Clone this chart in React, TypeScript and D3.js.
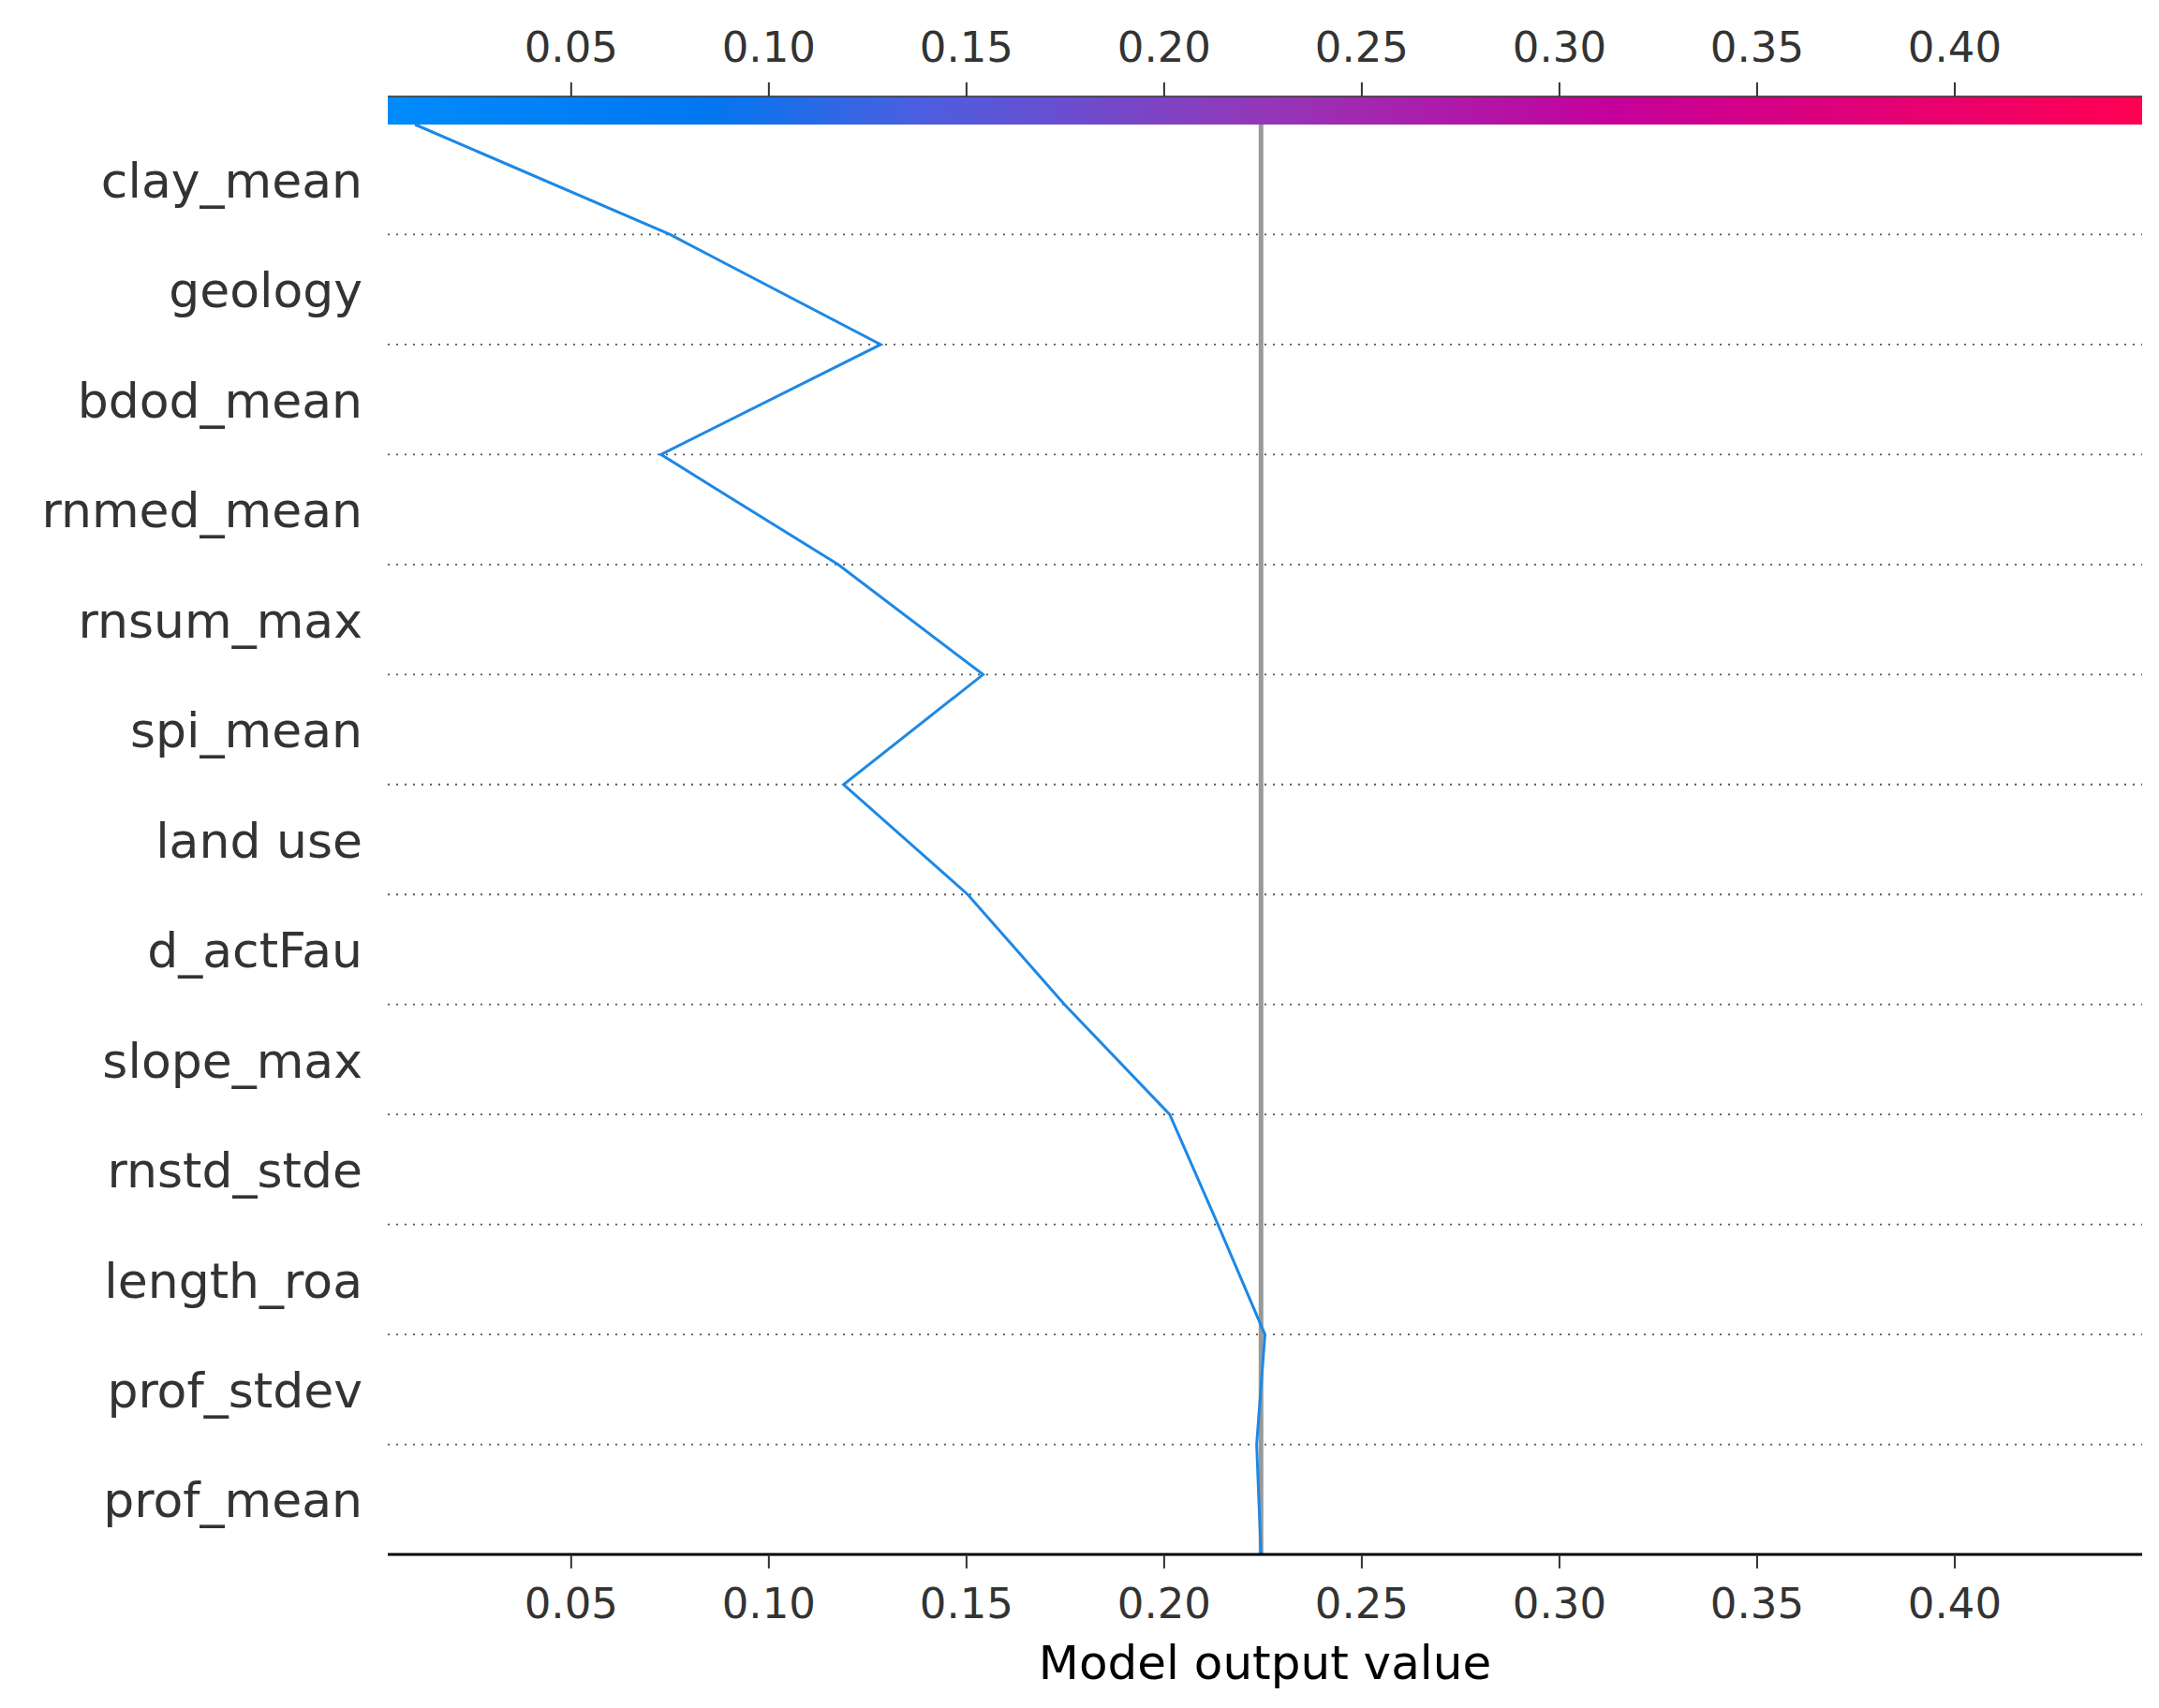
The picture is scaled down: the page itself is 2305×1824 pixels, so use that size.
import React, { useEffect, useRef } from 'react';
import * as d3 from 'd3';

const features = ['clay_mean', 'geology', 'bdod_mean', 'rnmed_mean', 'rnsum_max', 'spi_mean', 'land use', 'd_actFau', 'slope_max', 'rnstd_stde', 'length_roa', 'prof_stdev', 'prof_mean'];
// cumulative model output at each row boundary, top (final) to bottom (base)
const pathValues = [0.0105, 0.075, 0.1283, 0.0727, 0.1175, 0.1542, 0.1189, 0.1503, 0.1748, 0.2014, 0.2136, 0.2255, 0.2234, 0.2245];
const baseValue = 0.2245;
const tickValues = [0.05, 0.1, 0.15, 0.2, 0.25, 0.3, 0.35, 0.4];
const domain = [0.0036, 0.4474];

const W = 2305, H = 1824;
const left = 414, right = 2287;
const barTop = 103, barBottom = 133, axisY = 1660;

const App = () => {
  const ref = useRef<SVGSVGElement>(null);

  useEffect(() => {
    const svg = d3.select(ref.current);
    svg.selectAll('*').remove();
    const x = d3.scaleLinear().domain(domain).range([left, right]);
    const y = d3.scaleLinear().domain([0, features.length]).range([barBottom, axisY]);
    const font = 'DejaVu Sans, sans-serif';

    // colour bar
    const grad = svg.append('defs').append('linearGradient').attr('id', 'cb');
    [[0, '#008bfb'], [0.18, '#0077f0'], [0.3, '#4a5fe0'], [0.5, '#9437b8'], [0.7, '#c5009a'], [1, '#ff0052']]
      .forEach(([o, c]) => grad.append('stop').attr('offset', o as number).attr('stop-color', c as string));
    svg.append('rect').attr('x', left).attr('y', barTop).attr('width', right - left).attr('height', barBottom - barTop).attr('fill', 'url(#cb)');

    // top axis
    const top = svg.append('g').attr('transform', `translate(0,${barTop})`);
    top.append('line').attr('x1', left).attr('x2', right).attr('stroke', '#333').attr('stroke-width', 1.5);
    tickValues.forEach(t => {
      top.append('line').attr('x1', x(t)).attr('x2', x(t)).attr('y1', 0).attr('y2', -15).attr('stroke', '#333').attr('stroke-width', 2);
      top.append('text').attr('x', x(t)).attr('y', -37).attr('text-anchor', 'middle')
        .attr('font-family', font).attr('font-size', 45).attr('fill', '#333').text(d3.format('.2f')(t));
    });

    // dotted row lines
    for (let i = 1; i < features.length; i++) {
      svg.append('line').attr('x1', left).attr('x2', right).attr('y1', y(i)).attr('y2', y(i))
        .attr('stroke', '#555').attr('stroke-width', 1.8).attr('stroke-dasharray', '2 7');
    }

    // feature labels
    features.forEach((f, i) => {
      svg.append('text').attr('x', 387).attr('y', y(i + 0.5)).attr('dy', '0.1em').attr('text-anchor', 'end')
        .attr('dominant-baseline', 'middle').attr('font-family', font).attr('font-size', 52).attr('fill', '#333').text(f);
    });

    // base value line
    svg.append('line').attr('x1', x(baseValue)).attr('x2', x(baseValue)).attr('y1', barBottom).attr('y2', axisY)
      .attr('stroke', '#999').attr('stroke-width', 5);

    // decision path
    const line = d3.line<number>().x(d => x(d)).y((d, i) => y(i));
    svg.append('path').attr('d', line(pathValues)).attr('fill', 'none').attr('stroke', '#1e88e5').attr('stroke-width', 3);

    // bottom axis
    const bot = svg.append('g').attr('transform', `translate(0,${axisY})`);
    bot.append('line').attr('x1', left).attr('x2', right).attr('stroke', '#000').attr('stroke-width', 3);
    tickValues.forEach(t => {
      bot.append('line').attr('x1', x(t)).attr('x2', x(t)).attr('y1', 0).attr('y2', 15).attr('stroke', '#333').attr('stroke-width', 2);
      bot.append('text').attr('x', x(t)).attr('y', 68).attr('text-anchor', 'middle')
        .attr('font-family', font).attr('font-size', 45).attr('fill', '#333').text(d3.format('.2f')(t));
    });
    svg.append('text').attr('x', (left + right) / 2).attr('y', 1793).attr('text-anchor', 'middle')
      .attr('font-family', font).attr('font-size', 50).attr('fill', '#000').text('Model output value');
  }, []);

  return <svg ref={ref} width={W} height={H} style={{ position: 'absolute', left: 0, top: 0, background: '#fff' }} />;
};

export default App;
